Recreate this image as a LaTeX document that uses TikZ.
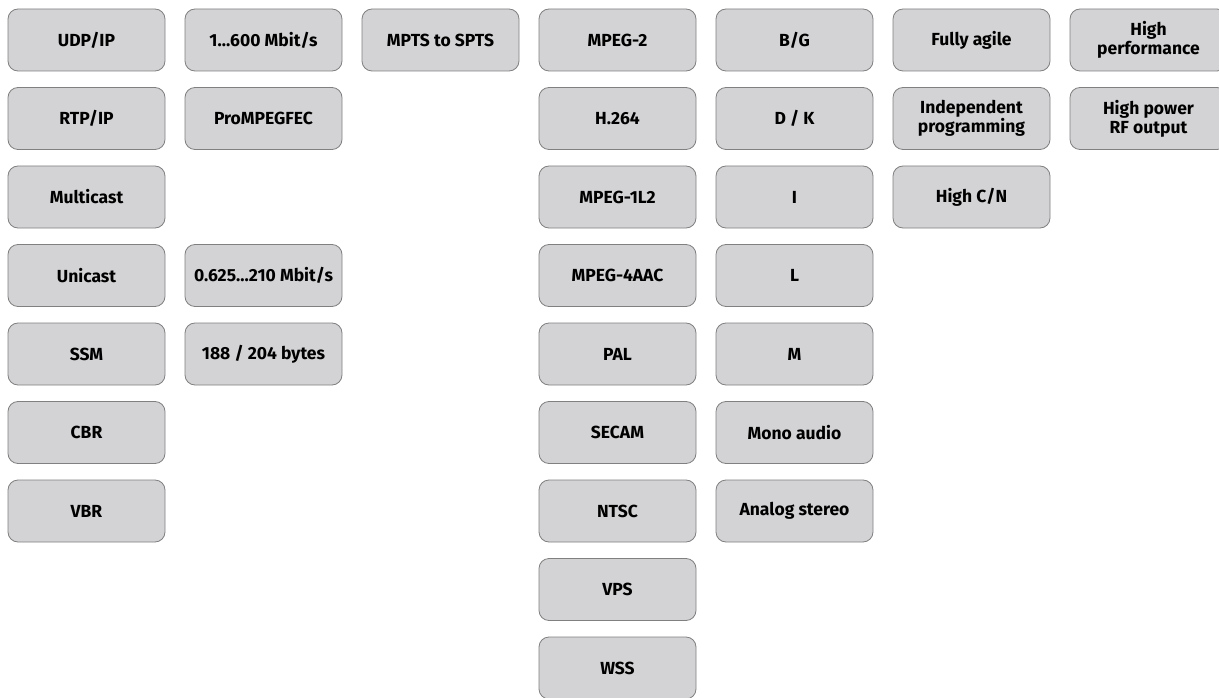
\documentclass[tikz,border=0pt]{standalone}
\usepackage{fontspec}
\setmainfont{Fira Sans}
\definecolor{boxfill}{HTML}{D3D3D5}
\definecolor{boxline}{HTML}{808080}
\tikzset{
    feature/.style={draw=boxline,fill=boxfill,rounded corners=10pt,line width=.8pt,
        minimum width=157pt,minimum height=62pt,align=center,inner sep=1pt,
        font=\fontsize{17.5}{19}\selectfont\bfseries}
}
\begin{document}
\begin{tikzpicture}[x=1pt,y=1pt]
                \useasboundingbox (0,0) rectangle (1219,-698);
                % transport
                \node[feature] (udp) at (86.5,-40) {UDP/IP};
                \node[feature] (rtp) at (86.5,-118.5) {RTP/IP};
                \node[feature] (multicast) at (86.5,-197) {Multicast};
                \node[feature] (unicast) at (86.5,-275.5) {Unicast};
                \node[feature] (ssm) at (86.5,-354) {SSM};
                \node[feature] (cbr) at (86.5,-432.5) {CBR};
                \node[feature] (vbr) at (86.5,-511) {VBR};
                % rates
                \node[feature] (inrate) at (263.5,-40) {1…600 Mbit/s};
                \node[feature] (fec) at (263.5,-118.5) {ProMPEGFEC};
                \node[feature] (outrate) at (263.5,-275.5) {0.625…210 Mbit/s};
                \node[feature] (packet) at (263.5,-354) {188 / 204 bytes};
                % remux
                \node[feature] (remux) at (440.5,-40) {MPTS to SPTS};
                % decoding
                \node[feature] (mpegtwo) at (617.5,-40) {MPEG-2};
                \node[feature] (avc) at (617.5,-118.5) {H.264};
                \node[feature] (layertwo) at (617.5,-197) {MPEG-1L2};
                \node[feature] (aac) at (617.5,-275.5) {MPEG-4AAC};
                \node[feature] (pal) at (617.5,-354) {PAL};
                \node[feature] (secam) at (617.5,-432.5) {SECAM};
                \node[feature] (ntsc) at (617.5,-511) {NTSC};
                \node[feature] (vps) at (617.5,-589.5) {VPS};
                \node[feature] (wss) at (617.5,-668) {WSS};
                % standards
                \node[feature] (bg) at (794.5,-40) {B/G};
                \node[feature] (dk) at (794.5,-118.5) {D / K};
                \node[feature] (stdi) at (794.5,-197) {I};
                \node[feature] (stdl) at (794.5,-275.5) {L};
                \node[feature] (stdm) at (794.5,-354) {M};
                \node[feature] (mono) at (794.5,-432.5) {Mono audio};
                \node[feature] (stereo) at (794.5,-511) {Analog stereo};
                % modulator
                \node[feature] (agile) at (971.5,-40) {Fully agile};
                \node[feature] (indep) at (971.5,-118.5) {Independent\\programming};
                \node[feature] (cn) at (971.5,-197) {High C/N};
                % output
                \node[feature] (perf) at (1148.5,-40) {High\\performance};
                \node[feature] (power) at (1148.5,-118.5) {High power\\RF output};
            \end{tikzpicture}
\end{document}
